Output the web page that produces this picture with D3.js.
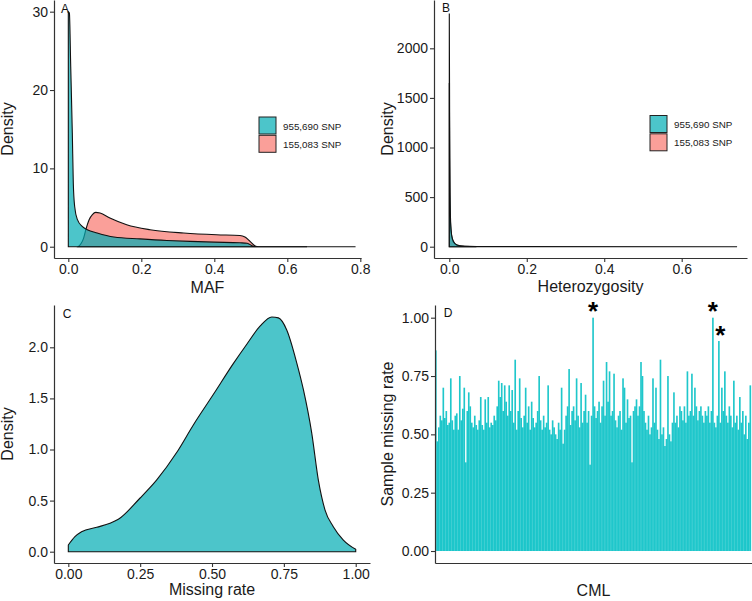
<!DOCTYPE html>
<html>
<head>
<meta charset="utf-8">
<script src="https://cdn.jsdelivr.net/npm/d3@7"></script>
<style>
html,body{margin:0;padding:0;background:#fff;}
svg{display:block;font-family:"Liberation Sans",Arial,sans-serif;}
</style>
</head>
<body>
<svg id="chart" width="752" height="601"></svg>
<script>
// ---------------- DATA ----------------
const seriesLabels = ["955,690 SNP", "155,083 SNP"];
const seriesColors = ["#00ADB4", "#F8766D"];

// Panel A: MAF density
const mafTealX = [0, 0.003, 0.0066, 0.011, 0.0137, 0.0175, 0.025, 0.038, 0.052, 0.079, 0.125, 0.197, 0.27, 0.334, 0.40, 0.47, 0.49, 0.505, 0.52, 0.6, 0.787];
const mafTealY = [30, 29.8, 23, 14.5, 8.1, 5.1, 3.45, 2.6, 2.17, 1.75, 1.24, 1.0, 0.8, 0.68, 0.58, 0.5, 0.45, 0.1, 0, 0, 0];
const mafPinkX = [0.027, 0.035, 0.042, 0.048, 0.057, 0.066, 0.075, 0.087, 0.114, 0.16, 0.224, 0.316, 0.406, 0.47, 0.484, 0.498, 0.512, 0.52, 0.654];
const mafPinkY = [0, 0.4, 1.1, 2.17, 3.45, 4.1, 4.38, 4.3, 3.66, 2.8, 2.17, 1.75, 1.53, 1.44, 1.24, 0.68, 0.1, 0, 0];
const mafTicksX = [0, 0.2, 0.4, 0.6, 0.8];
const mafTicksY = [0, 10, 20, 30];

// Panel B: heterozygosity density
const hetTealX = [0, 0.0006, 0.0012, 0.002, 0.003, 0.004, 0.006, 0.009, 0.013, 0.018, 0.025, 0.035, 0.05, 0.07, 0.1, 0.743];
const hetTealY = [2350, 1650, 900, 500, 300, 200, 120, 70, 40, 22, 12, 6, 3, 1.2, 0.4, 0];
const hetPinkX = [0, 0.0006, 0.0015, 0.003, 0.006, 0.01, 0.02, 0.04, 0.07];
const hetPinkY = [1650, 1200, 600, 250, 110, 50, 15, 3, 0];
const hetTicksX = [0, 0.2, 0.4, 0.6];
const hetTicksY = [0, 500, 1000, 1500, 2000];

// Panel C: missing rate density
const missX = [0, 0.023, 0.046, 0.099, 0.145, 0.174, 0.249, 0.307, 0.377, 0.435, 0.505, 0.574, 0.621, 0.667, 0.708, 0.731, 0.76, 0.795, 0.818, 0.847, 0.87, 0.893, 0.922, 0.957, 1.0];
const missY = [0.065, 0.147, 0.196, 0.239, 0.278, 0.317, 0.523, 0.70, 0.97, 1.24, 1.54, 1.84, 2.03, 2.206, 2.297, 2.288, 2.17, 1.846, 1.585, 1.16, 0.70, 0.41, 0.245, 0.114, 0.023];
const missTicksX = [0, 0.25, 0.5, 0.75, 1.0];
const missTicksY = [0, 0.5, 1.0, 1.5, 2.0];

// Panel D: sample missing rate per CML line
const sampleMissing = [
  0.86, 0.47, 0.53, 0.58, 0.56, 0.70, 0.57, 0.60, 0.54, 0.55,
  0.74, 0.56, 0.52, 0.58, 0.59, 0.52, 0.75, 0.56, 0.61, 0.70,
  0.38, 0.60, 0.68, 0.62, 0.55, 0.53, 0.58, 0.54, 0.52, 0.56,
  0.66, 0.54, 0.52, 0.65, 0.55, 0.66, 0.53, 0.55, 0.54, 0.58,
  0.56, 0.62, 0.73, 0.66, 0.72, 0.60, 0.71, 0.64, 0.58, 0.71,
  0.60, 0.69, 0.55, 0.82, 0.52, 0.60, 0.74, 0.57, 0.53, 0.58,
  0.70, 0.55, 0.62, 0.52, 0.64, 0.57, 0.53, 0.55, 0.60, 0.75,
  0.56, 0.52, 0.58, 0.53, 0.55, 0.71, 0.52, 0.50, 0.56, 0.53,
  0.50, 0.48, 0.55, 0.52, 0.70, 0.46, 0.52, 0.58, 0.62, 0.78,
  0.54, 0.60, 0.62, 0.56, 0.74, 0.58, 0.53, 0.72, 0.55, 0.60,
  0.67, 0.55, 0.60, 0.37, 0.58, 1.00, 0.62, 0.57, 0.60, 0.64,
  0.55, 0.62, 0.73, 0.58, 0.81, 0.64, 0.77, 0.58, 0.60, 0.76,
  0.56, 0.53, 0.58, 0.60, 0.52, 0.74, 0.70, 0.55, 0.65, 0.57,
  0.58, 0.38, 0.60, 0.62, 0.65, 0.58, 0.62, 0.81, 0.75, 0.60,
  0.55, 0.52, 0.58, 0.50, 0.53, 0.74, 0.55, 0.70, 0.52, 0.48,
  0.82, 0.50, 0.53, 0.45, 0.48, 0.75, 0.50, 0.47, 0.55, 0.68,
  0.55, 0.58, 0.53, 0.62, 0.60, 0.56, 0.62, 0.55, 0.77, 0.58,
  0.60, 0.76, 0.58, 0.70, 0.62, 0.56, 0.60, 0.62, 0.58, 0.55,
  0.60, 0.58, 0.62, 0.55, 0.60, 1.00, 0.55, 0.53, 0.58, 0.90,
  0.55, 0.70, 0.60, 0.77, 0.58, 0.55, 0.62, 0.58, 0.53, 0.73,
  0.55, 0.58, 0.52, 0.66, 0.55, 0.60, 0.50, 0.58, 0.48, 0.55, 0.71
];
const flaggedSamples = [105, 185, 189];
const sampleTicksY = [0, 0.25, 0.5, 0.75, 1.0];

// ---------------- DRAWING ----------------
const svg = d3.select("#chart");
const axisColor = "#333";
const textColor = "#1a1a1a";

function styleAxis(g) {
  g.select(".domain").attr("stroke", axisColor).attr("stroke-width", 1.2);
  g.selectAll(".tick line").attr("stroke", axisColor).attr("stroke-width", 1.1);
  g.selectAll(".tick text").attr("fill", textColor).attr("font-size", 14)
    .attr("font-family", "Liberation Sans, Arial, sans-serif");
}

function drawAxes(x, y, xTicks, yTicks, xFmt, yFmt, showX) {
  const yr = y.range();
  const xr = x.range();
  const gx = svg.append("g").attr("transform", `translate(0,${yr[0]})`)
    .call(d3.axisBottom(x).tickValues(showX ? xTicks : []).tickFormat(xFmt)
      .tickSize(4).tickSizeOuter(0).tickPadding(2));
  styleAxis(gx);
  const gy = svg.append("g").attr("transform", `translate(${xr[0]},0)`)
    .call(d3.axisLeft(y).tickValues(yTicks).tickFormat(yFmt)
      .tickSize(4).tickSizeOuter(0).tickPadding(2));
  styleAxis(gy);
}

function densityArea(x, y, xs, ys) {
  const pts = xs.map((v, i) => [v, ys[i]]);
  return d3.area().x(d => x(d[0])).y0(y(0)).y1(d => y(d[1]))
    .curve(d3.curveMonotoneX)(pts);
}

function title(txt, x, y, rotate) {
  const t = svg.append("text").text(txt).attr("fill", textColor)
    .attr("font-size", 16).attr("text-anchor", "middle");
  if (rotate) t.attr("transform", `translate(${x},${y}) rotate(-90)`);
  else t.attr("x", x).attr("y", y);
}

function panelLabel(txt, x, y) {
  svg.append("text").text(txt).attr("x", x).attr("y", y)
    .attr("font-size", 12).attr("fill", "#111").attr("text-anchor", "middle");
}

function legend(x0, y0) {
  seriesLabels.forEach((lab, i) => {
    svg.append("rect").attr("x", x0).attr("y", y0 + i * 18.3)
      .attr("width", 17).attr("height", 17)
      .attr("fill", seriesColors[i]).attr("fill-opacity", 0.7)
      .attr("stroke", "#222").attr("stroke-width", 1);
    svg.append("text").text(lab).attr("x", x0 + 24).attr("y", y0 + i * 18.3 + 12.5)
      .attr("font-size", 9.8).attr("fill", textColor);
  });
}

// Panel A
{
  const x = d3.scaleLinear().domain([-0.0392, 0.8019]).range([54, 361]);
  const y = d3.scaleLinear().domain([-1.44, 31.49]).range([258, 0]);
  svg.append("path").attr("d", densityArea(x, y, mafPinkX, mafPinkY))
    .attr("fill", seriesColors[1]).attr("fill-opacity", 0.7)
    .attr("stroke", "#111").attr("stroke-width", 1.1);
  svg.append("path").attr("d", densityArea(x, y, mafTealX, mafTealY))
    .attr("fill", seriesColors[0]).attr("fill-opacity", 0.7)
    .attr("stroke", "#111").attr("stroke-width", 1.1);
  drawAxes(x, y, mafTicksX, mafTicksY, d3.format(".1f"), d3.format("d"), true);
  title("MAF", 207.5, 292.5, false);
  title("Density", 12.5, 129, true);
  panelLabel("A", 65, 13);
  legend(259, 117);
}

// Panel B
{
  const x = d3.scaleLinear().domain([-0.0395, 0.7686]).range([434, 747]);
  const y = d3.scaleLinear().domain([-113.9, 2487]).range([258, 0]);
  svg.append("path").attr("d", densityArea(x, y, hetPinkX, hetPinkY))
    .attr("fill", seriesColors[1]).attr("fill-opacity", 0.7)
    .attr("stroke", "#111").attr("stroke-width", 1.1);
  svg.append("path").attr("d", densityArea(x, y, hetTealX, hetTealY))
    .attr("fill", seriesColors[0]).attr("fill-opacity", 0.7)
    .attr("stroke", "#111").attr("stroke-width", 1.1);
  drawAxes(x, y, hetTicksX, hetTicksY, d3.format(".1f"), d3.format("d"), true);
  title("Heterozygosity", 590.5, 292, false);
  title("Density", 393, 129, true);
  panelLabel("B", 446, 12);
  legend(650, 115.5);
}

// Panel C
{
  const x = d3.scaleLinear().domain([-0.0498, 1.0497]).range([54, 370]);
  const y = d3.scaleLinear().domain([-0.1106, 2.4139]).range([563, 305]);
  svg.append("path").attr("d", densityArea(x, y, missX, missY))
    .attr("fill", seriesColors[0]).attr("fill-opacity", 0.7)
    .attr("stroke", "#111").attr("stroke-width", 1.1);
  drawAxes(x, y, missTicksX, missTicksY, d3.format(".2f"), d3.format(".1f"), true);
  title("Missing rate", 212, 595, false);
  title("Density", 12.5, 434, true);
  panelLabel("C", 67, 318);
}

// Panel D
{
  const idx = sampleMissing.map((d, i) => i);
  const x = d3.scaleBand().domain(idx).range([435, 751]).padding(0);
  const y = d3.scaleLinear().domain([-0.0514, 1.0544]).range([563, 305]);
  svg.append("g").selectAll("rect").data(sampleMissing).join("rect")
    .attr("x", (d, i) => x(i)).attr("width", x.bandwidth() + 0.15)
    .attr("y", d => y(d)).attr("height", d => y(0) - y(d))
    .attr("fill", "#00BFC4").attr("fill-opacity", 0.88);
  drawAxes(d3.scaleLinear().range([435, 752]), y, [], sampleTicksY, null, d3.format(".2f"), false);
  title("CML", 593.5, 596, false);
  title("Sample missing rate", 393, 434, true);
  panelLabel("D", 448, 317);
  flaggedSamples.forEach((i, k) => {
    const cx = x(i) + x.bandwidth() / 2 + (k === 2 ? 1.5 : 0);
    const cy = k === 2 ? y(sampleMissing[i]) - 12 : y(sampleMissing[i]) - 13;
    svg.append("text").text("*").attr("x", cx).attr("y", cy + 15)
      .attr("font-size", 26).attr("font-weight", "bold")
      .attr("text-anchor", "middle").attr("fill", "#000");
  });
}
</script>
</body>
</html>
